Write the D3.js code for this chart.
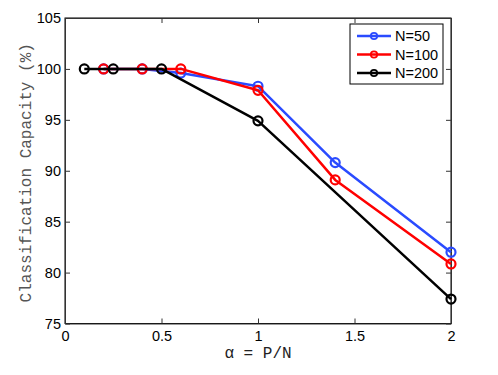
<!DOCTYPE html>
<html><head><meta charset="utf-8">
<script src="https://cdn.jsdelivr.net/npm/d3@7"></script>
<style>body{margin:0;background:#fff}svg{display:block}</style>
</head><body>
<svg id="c" width="498" height="375"></svg>
<script>
const xTicks = [0, 0.5, 1, 1.5, 2];
const yTicks = [75, 80, 85, 90, 95, 100, 105];
const seriesNames = ["N=50", "N=100", "N=200"];
const alpha50 = [0.2, 0.4, 0.6, 1, 1.4, 2];
const cap50 = [100, 100, 99.6, 98.3, 90.8, 82.0];
const alpha100 = [0.2, 0.4, 0.6, 1, 1.4, 2];
const cap100 = [100, 100, 100, 97.9, 89.1, 80.85];
const alpha200 = [0.1, 0.25, 0.5, 1, 2];
const cap200 = [100, 100, 100, 94.9, 77.4];
const colors = ["#2a4bff", "#ff0000", "#000000"];

const svg = d3.select("#c");
const L = 65, R = 451, T = 18, B = 323.5;
const x = d3.scaleLinear().domain([0, 2]).range([L, R]);
const y = d3.scaleLinear().domain([75, 105]).range([B, T]);

const tickFont = "Liberation Sans, Arial, sans-serif";
// frame
svg.append("rect").attr("x", L).attr("y", T).attr("width", R - L).attr("height", B - T)
  .attr("fill", "none").attr("stroke", "#000").attr("stroke-width", 1);

const tl = 5;
const gx = svg.append("g").attr("transform", `translate(0,${B})`)
  .call(d3.axisBottom(x).tickValues(xTicks).tickFormat(d3.format("")).tickSizeInner(-tl).tickSizeOuter(0).tickPadding(7));
const gxt = svg.append("g").attr("transform", `translate(0,${T})`)
  .call(d3.axisTop(x).tickValues(xTicks).tickFormat("").tickSizeInner(-tl).tickSizeOuter(0));
const gy = svg.append("g").attr("transform", `translate(${L},0)`)
  .call(d3.axisLeft(y).tickValues(yTicks).tickFormat(d3.format("")).tickSizeInner(-tl).tickSizeOuter(0).tickPadding(4));
const gyr = svg.append("g").attr("transform", `translate(${R},0)`)
  .call(d3.axisRight(y).tickValues(yTicks).tickFormat("").tickSizeInner(-tl).tickSizeOuter(0));
[gx, gxt, gy, gyr].forEach(g => {
  g.select(".domain").attr("stroke", "#333");
  g.selectAll(".tick line").attr("stroke", "#333");
  g.selectAll("text").attr("font-family", tickFont).attr("font-size", 14.5).attr("fill", "#000");
});

const data = [
  alpha50.map((a, i) => [a, cap50[i]]),
  alpha100.map((a, i) => [a, cap100[i]]),
  alpha200.map((a, i) => [a, cap200[i]])
];
const line = d3.line().x(d => x(d[0])).y(d => y(d[1]));
data.forEach((pts, k) => {
  svg.append("path").datum(pts).attr("d", line).attr("fill", "none")
    .attr("stroke", colors[k]).attr("stroke-width", 2.5).attr("stroke-linejoin", "round");
  svg.selectAll(null).data(pts).enter().append("circle")
    .attr("cx", d => x(d[0])).attr("cy", d => y(d[1])).attr("r", 4.5)
    .attr("fill", "none").attr("stroke", colors[k]).attr("stroke-width", 2.2);
});

// legend
const lg = svg.append("g");
lg.append("rect").attr("x", 350).attr("y", 24).attr("width", 93).attr("height", 60)
  .attr("fill", "#fff").attr("stroke", "#000").attr("stroke-width", 1);
seriesNames.forEach((n, k) => {
  const yy = 36 + k * 18.5;
  lg.append("line").attr("x1", 357).attr("x2", 391).attr("y1", yy).attr("y2", yy)
    .attr("stroke", colors[k]).attr("stroke-width", 2.5);
  lg.append("circle").attr("cx", 374).attr("cy", yy).attr("r", 3.2)
    .attr("fill", "none").attr("stroke", colors[k]).attr("stroke-width", 1.8);
  lg.append("text").attr("x", 395).attr("y", yy + 5).text(n)
    .attr("font-family", tickFont).attr("font-size", 14.5).attr("fill", "#000");
});

// axis labels
const mono = "Liberation Mono, Courier New, monospace";
svg.append("text").attr("x", (L + R) / 2).attr("y", 358).attr("text-anchor", "middle")
  .attr("font-family", mono).attr("font-size", 16).attr("fill", "#222").text("α = P/N");
svg.append("text").attr("transform", `translate(31,${(T + B) / 2 + 2}) rotate(-90)`)
  .attr("text-anchor", "middle").attr("font-family", mono).attr("font-size", 16)
  .attr("fill", "#555").text("Classification Capacity (%)");
</script>
</body></html>
